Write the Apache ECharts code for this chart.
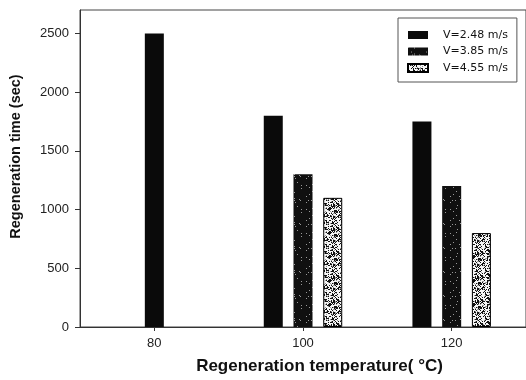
<!DOCTYPE html>
<html>
<head>
<meta charset="utf-8">
<script src="https://cdn.jsdelivr.net/npm/echarts@6/dist/echarts.min.js"></script>
<style>html,body{margin:0;padding:0;background:#fff;}#c{width:526px;height:380px;}</style>
</head>
<body>
<div id="c"></div>
<script>
// ---- data ----
const temperatures = [80, 100, 120];
const seriesNames = ['V=2.48 m/s', 'V=3.85 m/s', 'V=4.55 m/s'];
const v248 = [2500, 1800, 1750];
const v385 = [null, 1300, 1200];
const v455 = [null, 1100, 800];
const xTickLabels = [80, 100, 120];
const yTickLabels = [0, 500, 1000, 1500, 2000, 2500];

// ---- layout / style ----
const dodgeStep = 4; // axis units between side-by-side bars in a group
const allValues = [v248, v385, v455];

function texture(size, base, speck, density, grayShare, seed) {
  const c = document.createElement('canvas');
  c.width = c.height = size;
  const ctx = c.getContext('2d');
  ctx.fillStyle = base; ctx.fillRect(0, 0, size, size);
  let s = seed;
  for (let y = 0; y < size; y++) {
    for (let x = 0; x < size; x++) {
      s = (s * 1103515245 + 12345) & 0x7fffffff;
      const r = (s >> 8) % 100;
      if (r < density) { ctx.fillStyle = speck; ctx.fillRect(x, y, 1, 1); }
      else if (r < density + grayShare) { ctx.fillStyle = '#999'; ctx.fillRect(x, y, 1, 1); }
    }
  }
  return c;
}
const fills = [
  '#0a0a0a',
  { image: texture(24, '#101010', '#101010', 94, 3, 7), repeat: 'repeat' },
  { image: texture(24, '#f6f6f6', '#111', 34, 12, 13), repeat: 'repeat' }
];

// dodge positions computed from which series have data at each temperature
function positions(sIdx) {
  const out = [];
  temperatures.forEach((t, i) => {
    const present = allValues.map((arr, k) => arr[i] != null ? k : -1).filter(k => k >= 0);
    const v = allValues[sIdx][i];
    if (v == null) return;
    const rank = present.indexOf(sIdx);
    const off = (rank - (present.length - 1) / 2) * dodgeStep;
    out.push([t + off, v]);
  });
  return out;
}

const chart = echarts.init(document.getElementById('c'), null, { renderer: 'canvas' });
const axisColor = '#333';
chart.setOption({
  animation: false,
  backgroundColor: '#fff',
  grid: { left: 76, top: 10, width: 456, height: 318, show: true, borderColor: '#444', borderWidth: 1, backgroundColor: 'transparent' },
  legend: {
    orient: 'vertical',
    left: 398, top: 18,
    padding: [11, 9, 8, 9],
    itemWidth: 20, itemHeight: 8, itemGap: 4.5,
    borderColor: '#555', borderWidth: 1,
    icon: 'rect',
    data: seriesNames,
    textStyle: { fontFamily: 'DejaVu Sans', fontSize: 11, color: '#111', padding: [0, 0, 0, 10], lineHeight: 12 }
  },
  xAxis: {
    type: 'value', min: 70, max: 130,
    name: 'Regeneration temperature( °C)',
    nameLocation: 'middle', nameGap: 31,
    nameTextStyle: { fontFamily: 'Liberation Sans', fontWeight: 'bold', fontSize: 17, color: '#111', padding: [0, 0, 0, 33] },
    axisLine: { show: true, lineStyle: { color: axisColor, width: 1 } },
    axisTick: { show: true, length: 4, customValues: xTickLabels, lineStyle: { color: axisColor } },
    axisLabel: { customValues: xTickLabels, formatter: v => String(v), margin: 10, fontFamily: 'Liberation Sans', fontSize: 13, color: '#222' },
    splitLine: { show: false }
  },
  yAxis: {
    type: 'value', min: 0, max: 2700,
    name: 'Regeneration time (sec)',
    nameLocation: 'middle', nameGap: 57,
    nameTextStyle: { fontFamily: 'Liberation Sans', fontWeight: 'bold', fontSize: 14.5, color: '#111', padding: [0, 0, 0, 24] },
    axisLine: { show: true, lineStyle: { color: axisColor, width: 1 } },
    axisTick: { show: true, length: 5, customValues: yTickLabels, lineStyle: { color: axisColor } },
    axisLabel: { customValues: yTickLabels, formatter: v => String(v), margin: 11, fontFamily: 'Liberation Sans', fontSize: 13, color: '#222' },
    splitLine: { show: false }
  },
  series: seriesNames.map((name, k) => ({
    name: name,
    type: 'bar',
    barWidth: 19,
    barGap: '-100%',
    data: positions(k),
    itemStyle: { color: fills[k], borderColor: '#000', borderWidth: k === 2 ? 1 : 0 }
  }))
});
</script>
</body>
</html>
